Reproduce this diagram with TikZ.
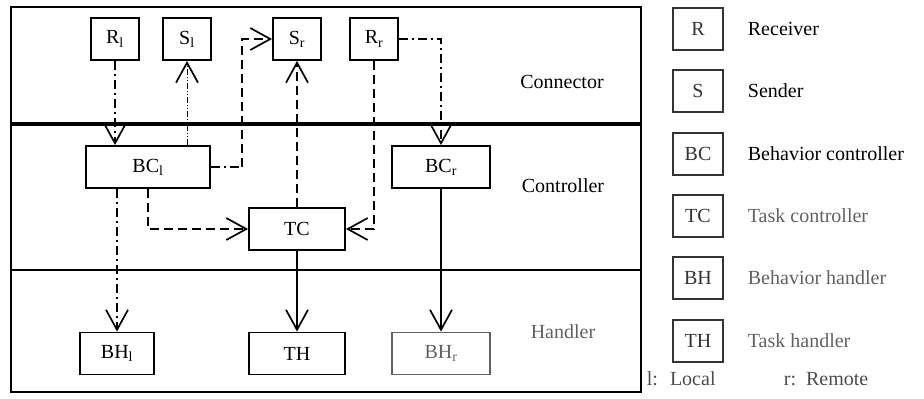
\documentclass[tikz,border=0pt]{standalone}
\usepackage{fontspec}
\setmainfont{Liberation Serif}
\usetikzlibrary{arrows.meta}

\begin{document}
\begin{tikzpicture}[x=1pt,y=-1pt,line width=1.8pt,
  >={Straight Barb[length=20pt,width=22pt,line width=1.7pt]},
  every node/.style={font=\fontsize{20}{24}\selectfont},
  box/.style={draw,line width=1.9pt,inner sep=0pt,minimum height=42pt},
  fade/.style={black!62},
  dashdot/.style={dash pattern=on 9pt off 4pt on 2pt off 4pt},
  dashline/.style={dash pattern=on 9pt off 5pt},
  dotline/.style={line width=1pt,dash pattern=on 6pt off 2pt on 1pt off 2pt on 1pt off 2pt}]
\useasboundingbox (0,0) rectangle (924,399);
% layers
\draw[line width=2.4pt] (11,7) rectangle (641,392);
\draw[line width=3.4pt] (11,124) -- (641,124);
\draw[line width=2pt] (11,270) -- (641,270);
\node (lcon) at (562,82) {Connector};
\node (lctl) at (563,186) {Controller};
\node[fade] (lhnd) at (563,332) {Handler};
% connector layer
\node[box,minimum width=48pt] (Rl) at (115,39) {R\textsubscript{l}};
\node[box,minimum width=48pt] (Sl) at (187,39) {S\textsubscript{l}};
\node[box,minimum width=48pt] (Sr) at (297,39) {S\textsubscript{r}};
\node[box,minimum width=48pt] (Rr) at (374,39) {R\textsubscript{r}};
% controller layer
\node[box,minimum width=124pt] (BCl) at (148,167) {BC\textsubscript{l}};
\node[box,minimum width=98pt] (BCr) at (441,167) {BC\textsubscript{r}};
\node[box,minimum width=96pt] (TC) at (297,229) {TC};
% handler layer
\node[box,minimum width=74pt] (BHl) at (117,353.5) {BH\textsubscript{l}};
\node[box,minimum width=96pt] (TH) at (297,353.5) {TH};
\node[box,fade,minimum width=98pt] (BHr) at (441,353.5) {BH\textsubscript{r}};
% links
\draw[dashdot,->] (Rl.south) -- (Rl.south |- BCl.north);
\draw[dotline,->] (Sl.south |- BCl.north) -- (Sl.south);
\draw[dashdot] (BCl.east) -- ++(31,0) coordinate (jl);
\draw[dashline,->] (jl) |- (Sr.west);
\draw[dashline,->] (TC.north) -- (Sr.south);
\draw[dashline,->] (Rr.south) |- (TC.east);
\draw[dashdot,->] (Rr.east) -| (BCr.north);
\draw[dashdot,->] (BHl.north |- BCl.south) -- (BHl.north);
\draw[dashline,->] (BCl.south) |- (TC.west);
\draw[->] (TC.south) -- (TH.north);
\draw[->] (BCr.south) -- (BHr.north);
% legend
\foreach \k/\t/\y/\c in {R/Receiver/29/black,S/Sender/91/black,
    BC/Behavior controller/154/black,TC/Task controller/216/black!62,
    BH/Behavior handler/278/black!62,TH/Task handler/341/black!62}{
  \node[box,minimum width=50pt,draw=black!80,text=black!80] (k\k) at (698,\y) {\k};
  \node[anchor=west,text=\c,inner sep=0pt] (t\k) at (747,\y) {\t};
}
\node[anchor=west,inner sep=0pt,black!70] (loc) at (646,379) {l:\hspace{12pt}Local};
\node[anchor=west,inner sep=0pt,black!70] (rem) at (783,379) {r:\hspace{10pt}Remote};
\end{tikzpicture}
\end{document}
